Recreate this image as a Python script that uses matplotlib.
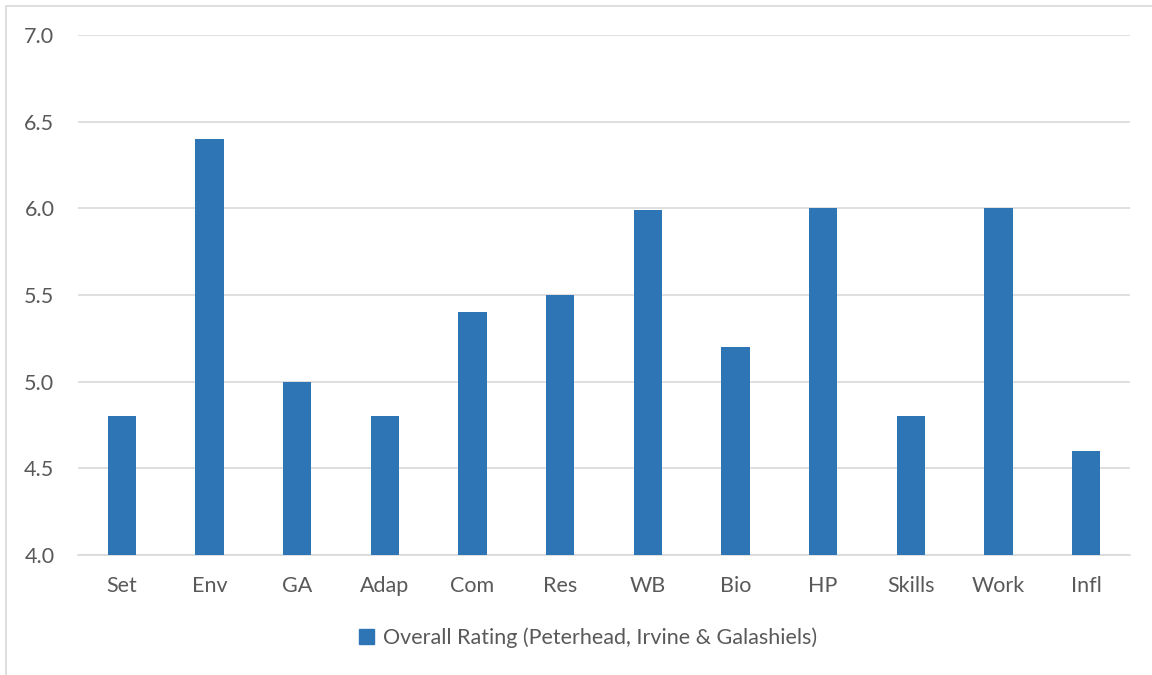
import matplotlib
matplotlib.use("Agg")
import matplotlib.pyplot as plt
from matplotlib.patches import Rectangle, Patch

categories = ["Set", "Env", "GA", "Adap", "Com", "Res", "WB", "Bio", "HP", "Skills", "Work", "Infl"]
ratings = [4.8, 6.4, 5.0, 4.8, 5.4, 5.5, 5.99, 5.2, 6.0, 4.8, 6.0, 4.6]
series_name = "Overall Rating (Peterhead, Irvine & Galashiels)"
y_ticks = [4.0, 4.5, 5.0, 5.5, 6.0, 6.5, 7.0]

bar_color = "#2E75B6"
text_color = "#595959"
grid_color = "#D9D9D9"

plt.rcParams["font.family"] = ["Lato", "DejaVu Sans"]

W, H = 1152, 675
fig = plt.figure(figsize=(W / 100, H / 100), dpi=100)
fig.patch.set_facecolor("white")

# chart frame
fig.patches.append(Rectangle((6 / W, -0.01), 1.02, 1 - 6 / H + 0.01,
                             transform=fig.transFigure, fill=False,
                             edgecolor=grid_color, linewidth=1.2))

ax = fig.add_axes([78 / W, 1 - 555 / H, (1130 - 78) / W, (555 - 35) / H])
x = range(len(categories))
ax.bar(x, [v - 4.0 for v in ratings], bottom=4.0, width=0.32, color=bar_color, zorder=3)

ax.set_xlim(-0.5, len(categories) - 0.5)
ax.set_ylim(4.0, 7.0)
ax.set_yticks(y_ticks)
ax.set_yticklabels([f"{t:.1f}" for t in y_ticks])
ax.set_xticks(list(x))
ax.set_xticklabels(categories)
ax.tick_params(axis="both", length=0, labelsize=15.5, colors=text_color)
ax.tick_params(axis="y", pad=17)
ax.tick_params(axis="x", pad=15)
ax.grid(axis="y", color=grid_color, linewidth=1.2, zorder=0)
for s in ["top", "right", "left"]:
    ax.spines[s].set_visible(False)
ax.spines["bottom"].set_color(grid_color)
ax.spines["bottom"].set_linewidth(1.2)

fig.legend(handles=[Patch(color=bar_color, label=series_name)],
           loc="center", bbox_to_anchor=(588 / W, 1 - 638 / H), frameon=False,
           fontsize=15.5, labelcolor=text_color, handlelength=0.7, handleheight=0.7,
           handletextpad=0.4)

fig.savefig("out.png", dpi=100, facecolor="white")
